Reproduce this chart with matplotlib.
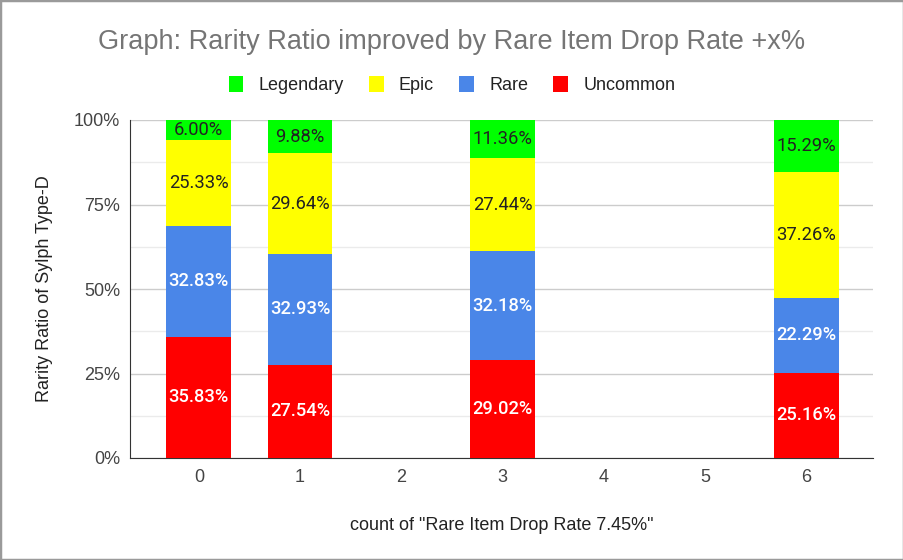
import matplotlib
matplotlib.use("Agg")
import matplotlib.pyplot as plt
from matplotlib.patches import Patch, Rectangle
from matplotlib.ticker import MultipleLocator, FuncFormatter

counts = [0, 1, 3, 6]
all_ticks = [0, 1, 2, 3, 4, 5, 6]
series_names = ["Uncommon", "Rare", "Epic", "Legendary"]
uncommon = [35.83, 27.54, 29.02, 25.16]
rare = [32.83, 32.93, 32.18, 22.29]
epic = [25.33, 29.64, 27.44, 37.26]
legendary = [6.00, 9.88, 11.36, 15.29]

colors = {"Uncommon": "#ff0000", "Rare": "#4a86e8", "Epic": "#ffff00", "Legendary": "#00ff00"}
label_colors = {"Uncommon": "white", "Rare": "white", "Epic": "#222222", "Legendary": "#222222"}

plt.rcParams['font.family'] = ['Liberation Sans', 'DejaVu Sans']

fig = plt.figure(figsize=(9.04, 5.6), dpi=100)
ax = fig.add_axes([130 / 904, 102 / 560, 743 / 904, 338 / 560])

data = {"Uncommon": uncommon, "Rare": rare, "Epic": epic, "Legendary": legendary}
bottom = [0.0] * len(counts)
for name in series_names:
    vals = data[name]
    bars = ax.bar(counts, vals, width=0.64, bottom=bottom, color=colors[name], zorder=3)
    weight = 'medium' if label_colors[name] == 'white' else 'normal'
    for b, v in zip(bars, vals):
        ax.text(b.get_x() + b.get_width() / 2, b.get_y() + b.get_height() / 2,
                "%.2f%%" % v, ha='center', va='center', fontsize=13.2, fontweight=weight,
                family=['Roboto', 'DejaVu Sans'], color=label_colors[name], zorder=4)
    bottom = [bt + v for bt, v in zip(bottom, vals)]

ax.set_xlim(-0.68, 6.66)
ax.set_ylim(0, 100)
ax.set_xticks(all_ticks)
ax.yaxis.set_major_locator(MultipleLocator(25))
ax.yaxis.set_minor_locator(MultipleLocator(12.5))
ax.yaxis.set_major_formatter(FuncFormatter(lambda v, p: "%d%%" % v))
ax.grid(axis='y', which='major', color='#cccccc', linewidth=1, zorder=0)
ax.grid(axis='y', which='minor', color='#ebebeb', linewidth=1, zorder=0)
ax.tick_params(axis='both', which='both', length=0, labelsize=13, colors='#444444')
ax.tick_params(axis='y', pad=7)
ax.tick_params(axis='x', pad=8)
for s in ['top', 'right']:
    ax.spines[s].set_visible(False)
ax.spines['left'].set_color('#333333')
ax.spines['bottom'].set_color('#333333')

ax.set_ylabel("Rarity Ratio of Sylph Type-D", fontsize=13, color='#222222', labelpad=15)
ax.set_xlabel('count of "Rare Item Drop Rate 7.45%"', fontsize=13, color='#222222', labelpad=22)

fig.text(0.5, 1 - 42 / 560, "Graph: Rarity Ratio improved by Rare Item Drop Rate +x%",
         ha='center', va='center', fontsize=19.5, color='#757575')

handles = [Patch(facecolor=colors[n], edgecolor='none') for n in reversed(series_names)]
fig.legend(handles, list(reversed(series_names)), loc='center', bbox_to_anchor=(0.5, 1 - 85 / 560),
           ncol=4, frameon=False, fontsize=13, handlelength=0.8, handleheight=1.0,
           handletextpad=0.85, columnspacing=1.4, labelcolor='#222222')

fig.patches.append(Rectangle((0, 0), 1, 1, transform=fig.transFigure, fill=False,
                             edgecolor='#9a9a9a', linewidth=2.5))

fig.savefig("out.png", dpi=100)
